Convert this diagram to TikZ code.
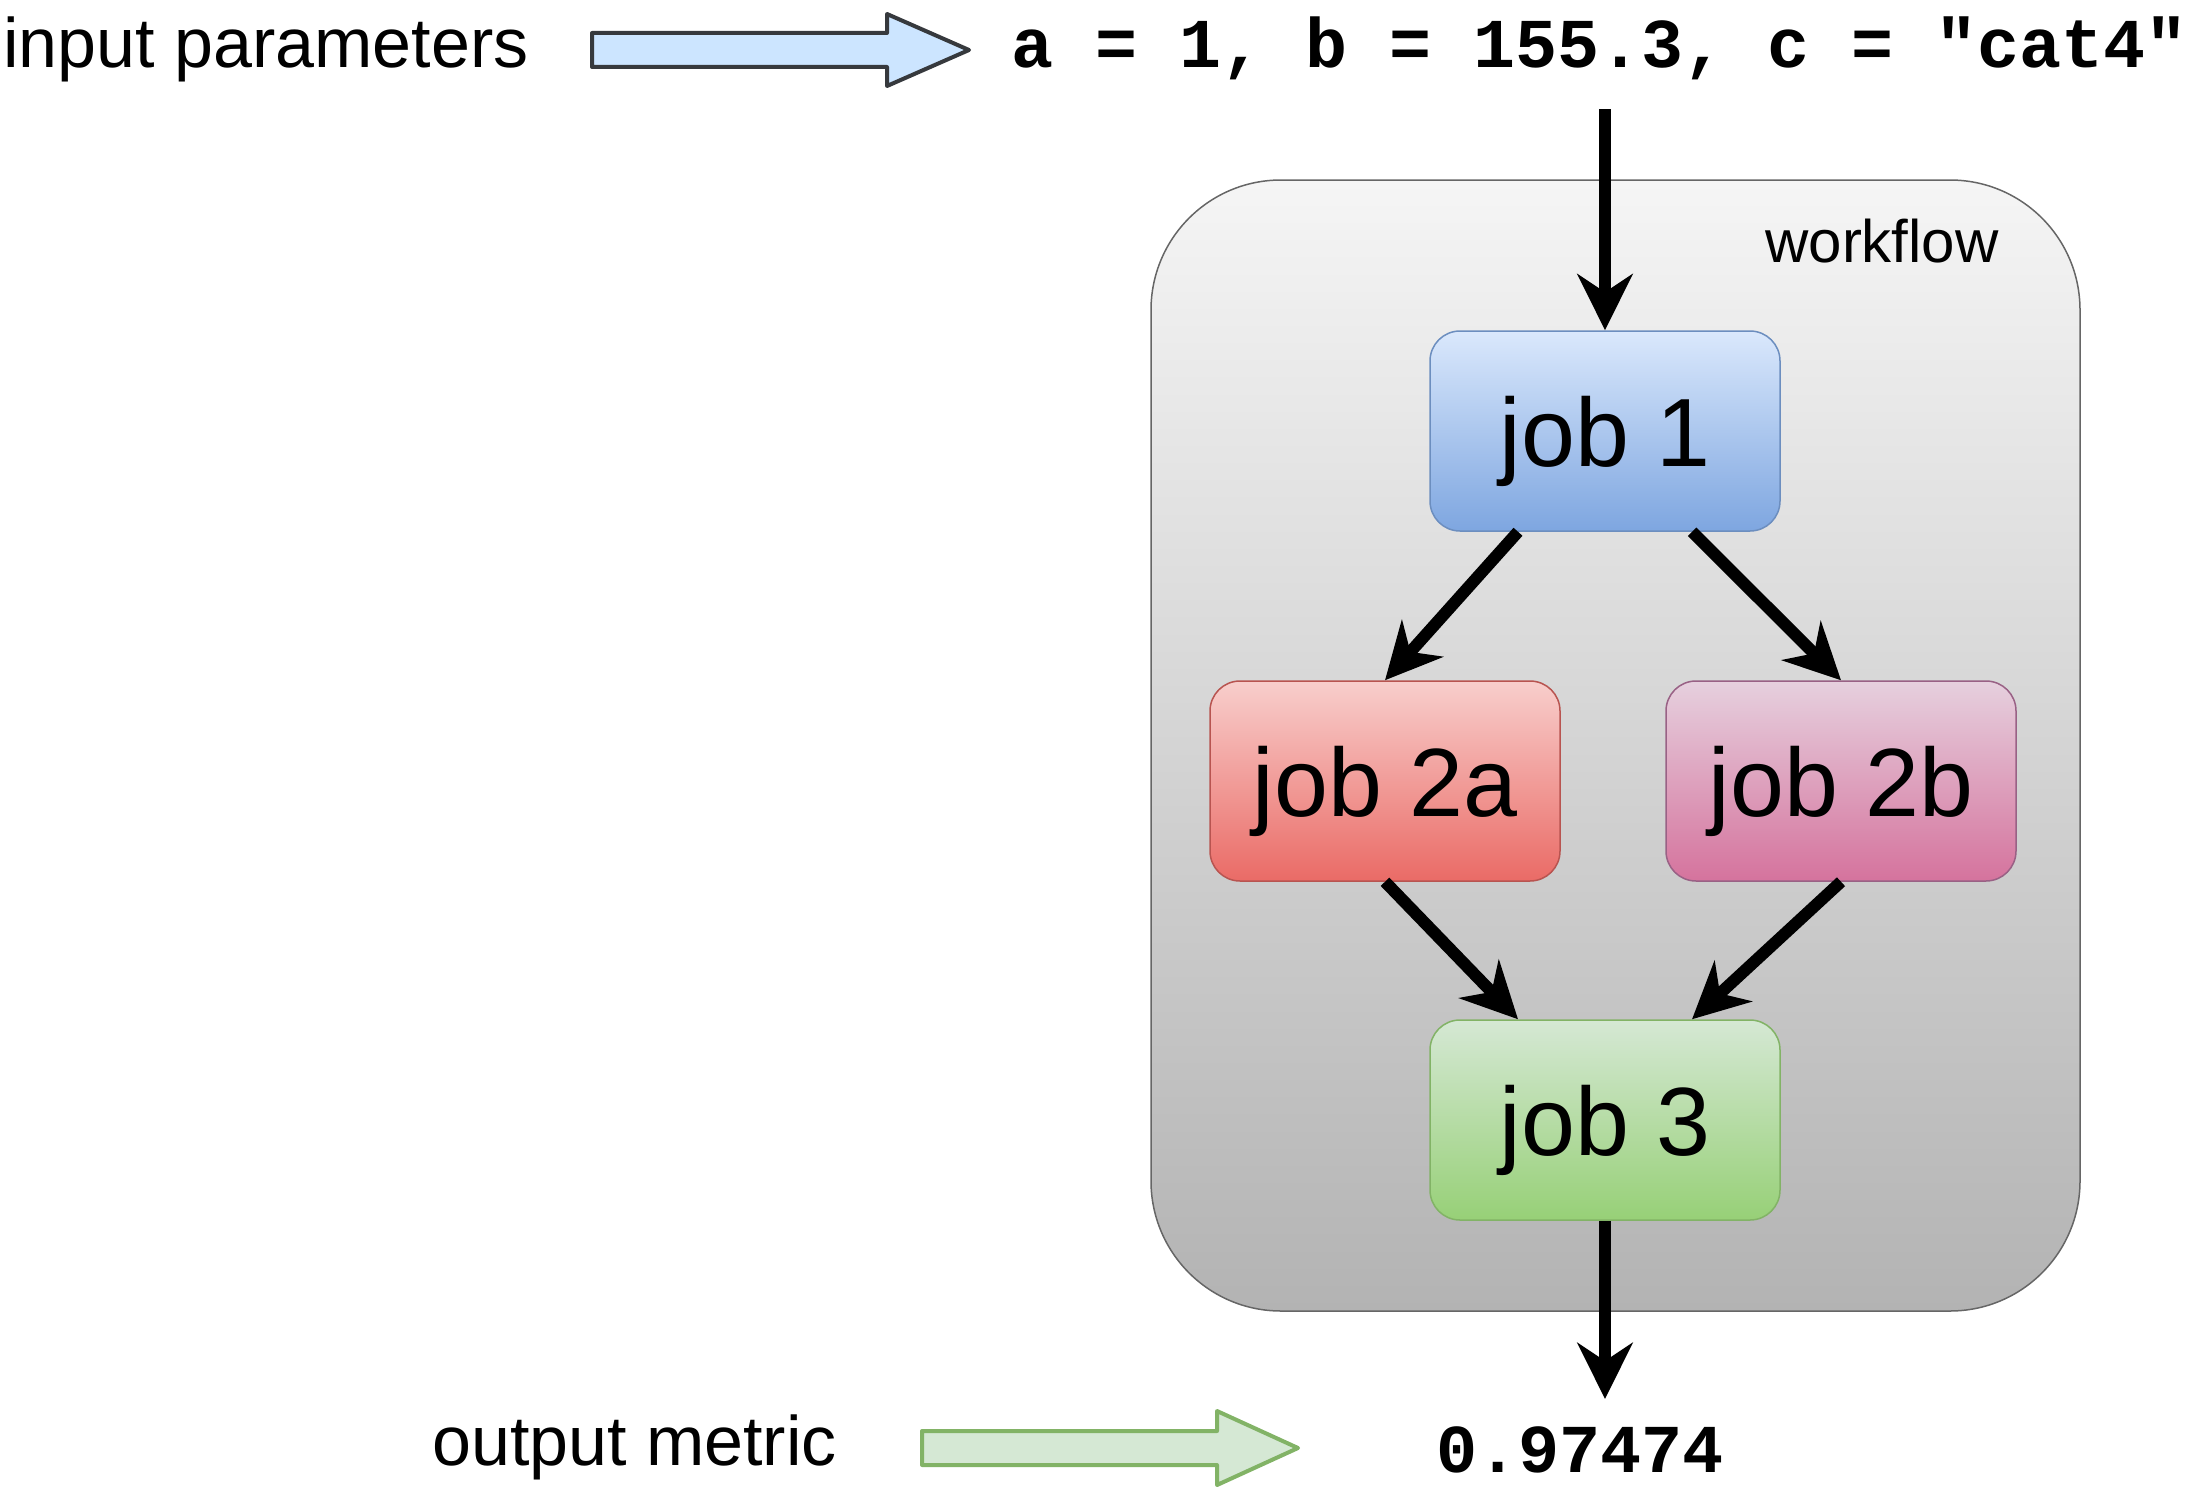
\documentclass[tikz,border=0pt]{standalone}
\usepackage{fontspec}
\setmainfont{Liberation Sans}
\newfontfamily\codefont{Liberation Mono}
\usetikzlibrary{arrows.meta}

\definecolor{wfTop}{HTML}{F5F5F5}
\definecolor{wfBottom}{HTML}{B3B3B3}
\definecolor{wfEdge}{HTML}{666666}
\definecolor{blueTop}{HTML}{DAE8FC}
\definecolor{blueBottom}{HTML}{7EA6E0}
\definecolor{blueEdge}{HTML}{6C8EBF}
\definecolor{redTop}{HTML}{F8CECC}
\definecolor{redBottom}{HTML}{EA6B66}
\definecolor{redEdge}{HTML}{B85450}
\definecolor{pinkTop}{HTML}{E6D0DE}
\definecolor{pinkBottom}{HTML}{D5739D}
\definecolor{pinkEdge}{HTML}{996185}
\definecolor{greenTop}{HTML}{D5E8D4}
\definecolor{greenBottom}{HTML}{97D077}
\definecolor{greenEdge}{HTML}{82B366}
\definecolor{inFill}{HTML}{CCE5FF}
\definecolor{inEdge}{HTML}{36393D}

\begin{document}
\begin{tikzpicture}[x=1pt,y=-1pt,
  flow/.style={line width=12pt,
    -{Stealth[length=56pt,width=55pt,inset=18pt]}},
  jobbox/.style={draw, line width=1.5pt, rounded corners=30pt,
    minimum width=350pt, minimum height=200pt, inner sep=0pt,
    text height=70pt, text depth=0pt,
    font=\fontsize{97}{116}\selectfont},
  container/.style={draw=wfEdge, line width=1.5pt, rounded corners=130pt,
    top color=wfTop, bottom color=wfBottom,
    minimum width=929pt, minimum height=1131pt, inner sep=0pt},
  plain/.style={inner sep=0pt, font=\fontsize{70}{84}\selectfont},
  code/.style={inner sep=0pt, font=\codefont\bfseries\fontsize{68.5}{82}\selectfont},
  blockarrow/.style={line width=4pt, line join=round}
]
\useasboundingbox (0,0) rectangle (2201,1496);

% input side
\node[plain, anchor=base west] (inlabel) at (3,68) {input parameters};
\draw[blockarrow, draw=inEdge, fill=inFill]
  (592,33) -- (887,33) -- (887,14) -- (969,50) -- (887,86) -- (887,67)
  -- (592,67) -- cycle;
\node[code, font=\codefont\bfseries\fontsize{70}{84}\selectfont, anchor=base west]
  (params) at (1011,67) {a = 1, b = 155.3, c = "cat4"};
\coordinate (paramsout) at (1605,109);

% workflow container
\node[container] (wf) at (1615.5,745.5) {};
\node[inner sep=0pt, anchor=base, font=\fontsize{60}{72}\selectfont]
  (wflabel) at (1882,262) {workflow};

% jobs
\node[jobbox, top color=blueTop, bottom color=blueBottom, draw=blueEdge]
  (job1) at (1605,431) {job 1};
\node[jobbox, top color=redTop, bottom color=redBottom, draw=redEdge]
  (job2a) at (1385,781) {job 2a};
\node[jobbox, top color=pinkTop, bottom color=pinkBottom, draw=pinkEdge]
  (job2b) at (1841,781) {job 2b};
\node[jobbox, top color=greenTop, bottom color=greenBottom, draw=greenEdge]
  (job3) at (1605,1120) {job 3};

% dependencies
\draw[flow] (paramsout) -- (job1.north);
\draw[flow] ([xshift=-87pt]job1.south) -- (job2a.north);
\draw[flow] ([xshift=87pt]job1.south) -- (job2b.north);
\draw[flow] (job2a.south) -- ([xshift=-87pt]job3.north);
\draw[flow] (job2b.south) -- ([xshift=87pt]job3.north);

% output side
\coordinate (metricin) at (1605,1399);
\draw[flow] (job3.south) -- (metricin);
\node[plain, anchor=base west] (outlabel) at (432,1465) {output metric};
\draw[blockarrow, draw=greenEdge, fill=greenTop]
  (922,1431) -- (1217,1431) -- (1217,1411) -- (1298,1448) -- (1217,1485)
  -- (1217,1465) -- (922,1465) -- cycle;
\node[code, anchor=base west] (metric) at (1436,1472) {0.97474};
\end{tikzpicture}
\end{document}
